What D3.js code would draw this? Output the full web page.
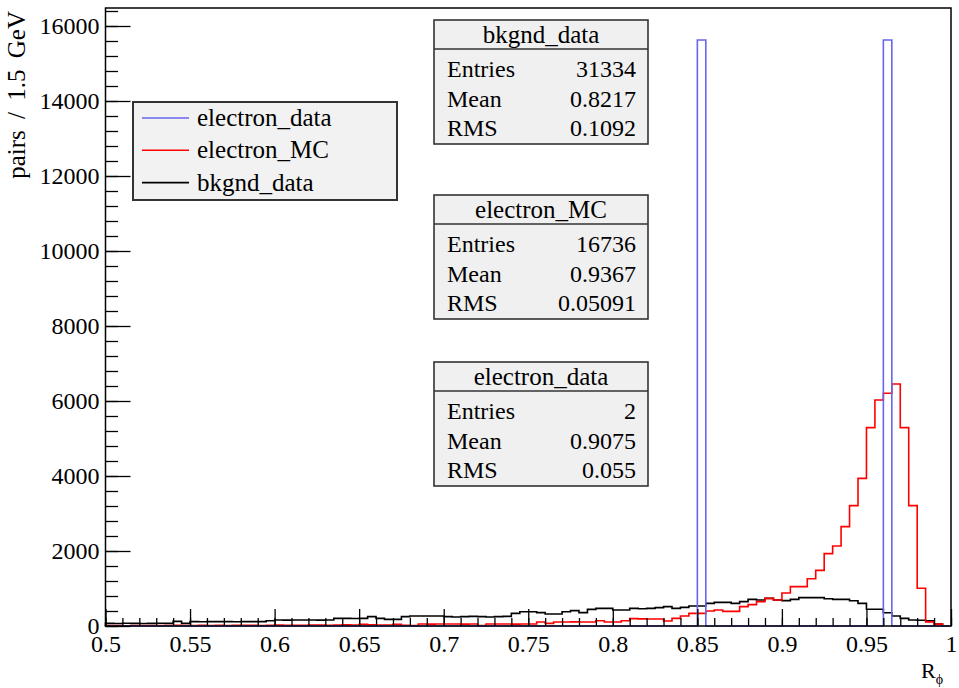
<!DOCTYPE html>
<html>
<head>
<meta charset="utf-8">
<script src="https://cdn.jsdelivr.net/npm/d3@7"></script>
<style>
  body { margin: 0; background: #fff; }
  svg, svg text { font-family: "Liberation Serif", "Times New Roman", Times, "DejaVu Serif", "Noto Serif", serif; }
</style>
</head>
<body>
<script>
// bins: 100 bins of 0.005 from 0.5 to 1
const binLow = 0.5
const binWidth = 0.005
const nBins = 100

const bkgndData = [
  70, 65, 72, 70, 68, 70, 72, 70, 124, 71,
  116, 112, 116, 118, 116, 114, 116, 116, 118, 142,
  160, 158, 160, 162, 160, 158, 160, 204, 204, 200,
  204, 249, 204, 178, 178, 249, 267, 267, 267, 267,
  249, 240, 249, 258, 249, 240, 249, 258, 338, 382,
  382, 356, 320, 320, 382, 409, 356, 444, 471, 471,
  427, 427, 471, 460, 470, 490, 516, 471, 498, 533,
  533, 604, 631, 631, 604, 649, 711, 693, 738, 693,
  676, 711, 756, 756, 756, 728, 711, 711, 675, 604,
  445, 445, 355, 267, 204, 160, 155, 142, 53, 0
]

const electronMC = [
  10, 12, 8, 15, 10, 12, 15, 10, 18, 12,
  15, 20, 15, 18, 12, 20, 18, 22, 15, 20,
  25, 18, 22, 20, 25, 28, 22, 25, 30, 25,
  45, 30, 28, 27, 44, 20, 10, 53, 50, 53,
  55, 53, 50, 53, 9, 53, 55, 53, 50, 53,
  55, 107, 71, 107, 107, 110, 107, 107, 142, 107,
  107, 142, 196, 190, 185, 185, 133, 204, 267, 338,
  338, 400, 427, 390, 390, 516, 569, 649, 738, 693,
  880, 1049, 1049, 1262, 1484, 1930, 2133, 2649, 3209, 3938,
  5289, 6027, 6205, 6453, 5289, 3209, 1005, 110, 50, 0
]

// electron_data: two entries, scaled
const electronDataBins = [70, 92]
const electronDataHeight = 15627

const yTicks = [0, 2000, 4000, 6000, 8000, 10000, 12000, 14000, 16000]
const xTicks = [0.5, 0.55, 0.6, 0.65, 0.7, 0.75, 0.8, 0.85, 0.9, 0.95, 1]

const legendNames = ['electron_data', 'electron_MC', 'bkgnd_data']
const legendColors = ['#6666ee', '#ff0000', '#000000']

const statTitles = ['bkgnd_data', 'electron_MC', 'electron_data']
const statEntries = ['31334', '16736', '2']
const statMeans = ['0.8217', '0.9367', '0.9075']
const statRMS = ['0.1092', '0.05091', '0.055']

const w = 959
const h = 688
const serif = '"Liberation Serif", "Times New Roman", Times, "DejaVu Serif", "Noto Serif", serif'

const x = d3.scaleLinear().domain([0.5, 1]).range([105.5, 951])
const y = d3.scaleLinear().domain([0, 16480]).range([626, 8])

const svg = d3.select('body').append('svg').attr('width', w).attr('height', h)
  .attr('font-family', serif)
svg.append('rect').attr('width', w).attr('height', h).attr('fill', '#fff')

const histPoints = (vals) => {
  const pts = [[binLow, 0]]
  vals.forEach((v, i) => {
    pts.push([binLow + i * binWidth, v])
    pts.push([binLow + (i + 1) * binWidth, v])
  })
  pts.push([binLow + nBins * binWidth, 0])
  return pts
}

const line = d3.line().x((d) => x(d[0])).y((d) => y(d[1]))

const blueVals = d3.range(nBins).map((i) => (electronDataBins.includes(i) ? electronDataHeight : 0))

svg.append('path').attr('d', line(histPoints(bkgndData)))
  .attr('fill', 'none').attr('stroke', '#000').attr('stroke-width', 1.6)
svg.append('path').attr('d', line(histPoints(electronMC)))
  .attr('fill', 'none').attr('stroke', '#ff0000').attr('stroke-width', 1.6)
svg.append('path').attr('d', line(histPoints(blueVals)))
  .attr('fill', 'none').attr('stroke', '#6666ee').attr('stroke-width', 1.6)

// axes
const minorX = d3.range(50, 101).map((d) => d / 100)
svg.append('g')
  .attr('transform', `translate(0,${y(0)})`)
  .call(d3.axisBottom(x).tickValues(minorX).tickSize(-8).tickFormat(''))
svg.append('g')
  .attr('transform', `translate(0,${y(0)})`)
  .call(d3.axisBottom(x).tickValues(xTicks).tickSize(-17).tickPadding(9)
    .tickFormat((d) => String(d)))

const minorY = d3.range(0, 16401, 400)
svg.append('g')
  .attr('transform', `translate(${x(0.5)},0)`)
  .call(d3.axisLeft(y).tickValues(minorY).tickSize(-12.5).tickFormat(''))
svg.append('g')
  .attr('transform', `translate(${x(0.5)},0)`)
  .call(d3.axisLeft(y).tickValues(yTicks).tickSize(-25).tickPadding(6).tickFormat(d3.format('d')))

svg.selectAll('.domain').remove()
svg.selectAll('g').attr('font-family', serif)
svg.selectAll('.tick line').attr('stroke', '#000').attr('stroke-width', 1.3)
svg.selectAll('.tick text')
  .attr('font-size', 24)
  .attr('fill', '#000')

// frame
svg.append('rect')
  .attr('x', x(0.5)).attr('y', y(16480))
  .attr('width', x(1) - x(0.5)).attr('height', y(0) - y(16480))
  .attr('fill', 'none').attr('stroke', '#000').attr('stroke-width', 1.5)

// axis titles
svg.append('text')
  .attr('transform', 'translate(25,11) rotate(-90)')
  .attr('text-anchor', 'end')
  .attr('font-size', 25)
  .attr('word-spacing', 5)
  .text('pairs / 1.5 GeV')

const xt = svg.append('text').attr('x', 943).attr('y', 678).attr('text-anchor', 'end').attr('font-size', 22)
xt.append('tspan').text('R')
xt.append('tspan').attr('font-size', 14).attr('dy', 6).text('ϕ')

// legend
const lg = svg.append('g').attr('transform', 'translate(133,102)')
lg.append('rect').attr('width', 264).attr('height', 98)
  .attr('fill', '#f2f2f2').attr('stroke', '#333').attr('stroke-width', 2)
legendNames.forEach((name, i) => {
  const ly = 16 + i * 32.3
  lg.append('line').attr('x1', 9).attr('x2', 56).attr('y1', ly).attr('y2', ly)
    .attr('stroke', legendColors[i]).attr('stroke-width', 1.6)
  lg.append('text').attr('x', 64).attr('y', ly + 8).attr('font-size', 25).text(name)
})

// stat boxes
const statTops = [20, 195, 362]
statTitles.forEach((title, i) => {
  const g = svg.append('g').attr('transform', `translate(434,${statTops[i]})`)
  g.append('rect').attr('width', 214).attr('height', 124)
    .attr('fill', '#f0f0f0').attr('stroke', '#333').attr('stroke-width', 1.6)
  g.append('line').attr('x1', 0).attr('x2', 214).attr('y1', 29).attr('y2', 29)
    .attr('stroke', '#333').attr('stroke-width', 1.6)
  g.append('text').attr('x', 107).attr('y', 23).attr('text-anchor', 'middle')
    .attr('font-size', 25).text(title)
  const rows = [['Entries', statEntries[i]], ['Mean', statMeans[i]], ['RMS', statRMS[i]]]
  rows.forEach((r, j) => {
    const by = 57 + j * 29.5
    g.append('text').attr('x', 13).attr('y', by).attr('font-size', 24).text(r[0])
    g.append('text').attr('x', 202).attr('y', by).attr('text-anchor', 'end')
      .attr('font-size', 24).text(r[1])
  })
})
</script>
</body>
</html>
